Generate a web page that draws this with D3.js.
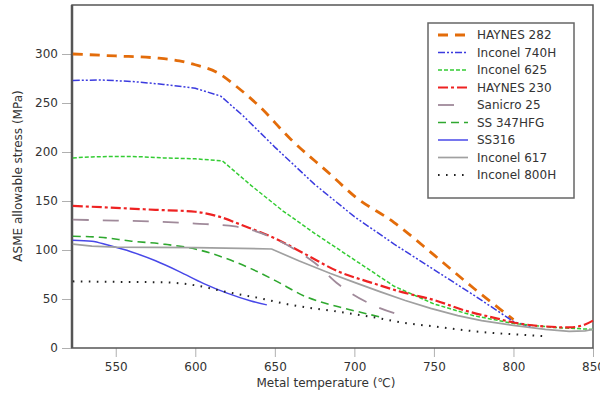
<!DOCTYPE html>
<html lang="en">
<head>
  <meta charset="UTF-8">
  <title>ASME allowable stress</title>
  <script src="https://d3js.org/d3.v7.min.js"></script>
  <style>
    body { margin: 0; background: #fff; }
    text { font-family: "DejaVu Sans", Verdana, sans-serif; fill: #333; }
  </style>
</head>
<body>
  <svg width="600" height="398"></svg>
  <script>
    // series, [temperature (C), stress (MPa)]
    const haynes282 = [[523,300],[550,298],[575,296],[590,293],[600,289],[615,280],[625,268],[640,247],[660,213],[685,177],[700,155],[725,128],[750,95],[775,61],[800,29]]
    const inconel740H = [[523,273],[540,273.5],[560,272],[580,269],[600,265],[616,257],[630,237],[650,205],[675,167],[700,134],[725,106],[750,80],[775,54],[800,27],[812,21]]
    const inconel625 = [[523,194],[535,195],[550,195.5],[565,195.2],[580,194],[600,193],[617,191],[635,166],[655,140],[675,117],[700,90],[725,63],[750,45],[775,33],[800,25],[825,21],[850,19]]
    const haynes230 = [[523,145],[550,143],[575,141],[600,139],[615,134],[630,125],[650,112],[670,95],[690,78],[710,67],[730,57],[750,49],[770,38],[790,30],[800,26],[820,22],[835,21],[845,24],[850,28]]
    const sanicro25 = [[523,131],[550,130],[575,129],[600,127],[625,124],[645,115],[660,103],[675,87],[690,65],[710,45],[728,34]]
    const ss347HFG = [[523,114],[540,113],[560,109],[580,106],[600,101],[620,91],[635,81],[650,69],[670,52],[690,42],[705,36],[718,31]]
    const ss316 = [[523,110],[535,109],[545,105],[560,98],[575,89],[590,78],[605,66],[620,56],[635,48],[645,44]]
    const inconel617 = [[523,106],[535,104],[550,103],[600,102.5],[648,101],[665,89],[685,76],[700,67],[716,57.5],[732,48.5],[748,40.5],[765,33],[780,28],[800,23],[820,19],[835,17],[845,17.5],[850,19]]
    const inconel800H = [[523,68],[550,67.5],[580,67],[600,64],[620,57],[640,51],[660,44],[690,37],[710,32],[730,26],[750,22],[770,18],[790,15],[805,13.5],[820,12]]

    const names = ["HAYNES 282", "Inconel 740H", "Inconel 625", "HAYNES 230", "Sanicro 25", "SS 347HFG", "SS316", "Inconel 617", "Inconel 800H"]
    const seriesData = [haynes282, inconel740H, inconel625, haynes230, sanicro25, ss347HFG, ss316, inconel617, inconel800H]
    const xTicks = [550, 600, 650, 700, 750, 800, 850]
    const yTicks = [0, 50, 100, 150, 200, 250, 300]

    // line looks (kink = sharp corner, drawn straight between points)
    const styles = [
      { color: "#e36c0a", width: 2.8, dash: "10,7" },
      { color: "#3b3bdf", width: 1.5, dash: "7,2,2,2,2,2", kink: true },
      { color: "#33cc33", width: 1.5, dash: "4,2", kink: true },
      { color: "#ee2222", width: 2.2, dash: "10,3,3,3" },
      { color: "#a08a9a", width: 1.8, dash: "16,14" },
      { color: "#2fa82f", width: 1.6, dash: "8,5" },
      { color: "#4848e8", width: 1.5, dash: null },
      { color: "#a0a0a0", width: 1.7, dash: null, kink: true },
      { color: "#222", width: 2, dash: "1.6,6.4" }
    ]

    const svg = d3.select("svg")
    const plot = { left: 72, right: 593, top: 5, bottom: 348 }

    const x = d3.scaleLinear().domain([522.5, 850]).range([plot.left, plot.right])
    const y = d3.scaleLinear().domain([0, 350]).range([plot.bottom, plot.top])

    // axes
    const xAxis = svg.append("g").attr("transform", `translate(0,${plot.bottom})`)
      .call(d3.axisBottom(x).tickValues(xTicks).tickSize(9).tickPadding(5))
    const yAxis = svg.append("g").attr("transform", `translate(${plot.left},0)`)
      .call(d3.axisLeft(y).tickValues(yTicks).tickSize(10).tickPadding(4))
    ;[xAxis, yAxis].forEach(a => {
      a.select(".domain").remove()
      a.selectAll(".tick line").attr("stroke", "#b0b0b0")
      a.selectAll(".tick text").style("font-size", "12px").style("fill", "#333")
    })

    // frame
    svg.append("rect")
      .attr("x", plot.left).attr("y", plot.top)
      .attr("width", plot.right - plot.left).attr("height", plot.bottom - plot.top)
      .attr("fill", "none").attr("stroke", "#555").attr("stroke-width", 1.5)
    svg.append("line")
      .attr("x1", plot.left).attr("x2", plot.left).attr("y1", plot.top).attr("y2", plot.bottom)
      .attr("stroke", "#555").attr("stroke-width", 2.5)

    const smooth = d3.line().x(d => x(d[0])).y(d => y(d[1])).curve(d3.curveMonotoneX)
    const straight = d3.line().x(d => x(d[0])).y(d => y(d[1]))

    svg.append("g").selectAll("path")
      .data(seriesData)
      .enter()
      .append("path")
      .attr("d", (d, i) => styles[i].kink ? straight(d) : smooth(d))
      .attr("fill", "none")
      .attr("stroke", (d, i) => styles[i].color)
      .attr("stroke-width", (d, i) => styles[i].width)
      .attr("stroke-dasharray", (d, i) => styles[i].dash)

    // legend
    const lg = svg.append("g")
    lg.append("rect")
      .attr("x", 428).attr("y", 23).attr("width", 146).attr("height", 175)
      .attr("fill", "#fff").attr("stroke", "#666").attr("stroke-width", 1.5)
    names.forEach((n, i) => {
      const cy = 35 + i * 17.5
      lg.append("line")
        .attr("x1", 438).attr("x2", 468).attr("y1", cy).attr("y2", cy)
        .attr("stroke", styles[i].color)
        .attr("stroke-width", styles[i].width)
        .attr("stroke-dasharray", styles[i].dash)
      lg.append("text")
        .attr("x", 477).attr("y", cy).attr("dy", "0.35em")
        .style("font-size", "12px")
        .text(n)
    })

    // axis titles
    svg.append("text")
      .attr("transform", "translate(22,176) rotate(-90)")
      .attr("text-anchor", "middle")
      .style("font-size", "12px")
      .text("ASME allowable stress (MPa)")
    svg.append("text")
      .attr("x", 326).attr("y", 387)
      .attr("text-anchor", "middle")
      .style("font-size", "12px")
      .text("Metal temperature (℃)")
  </script>
</body>
</html>
